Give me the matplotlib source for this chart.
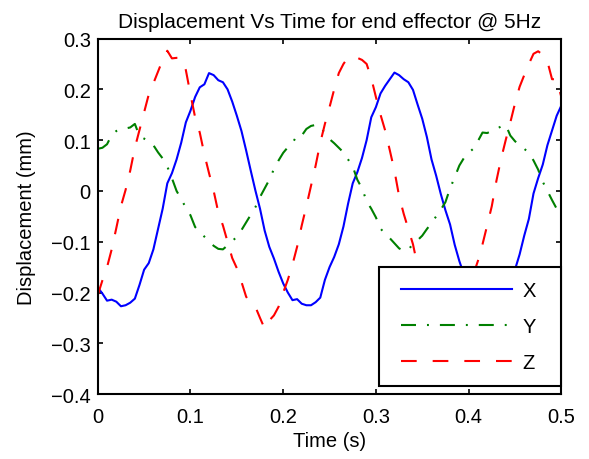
"""Displacement vs time for end effector @ 5Hz (MATLAB-style recreation)."""
import numpy as np
import matplotlib
matplotlib.use("Agg")
import matplotlib.pyplot as plt
from matplotlib.legend_handler import HandlerLine2D

# sample times (s), one every 5 ms
t = np.arange(101) * 0.005

# displacement (mm)
x_disp = [-0.190, -0.202, -0.216, -0.214, -0.218, -0.227, -0.225, -0.220, -0.212, -0.185,
          -0.155, -0.142, -0.115, -0.075, -0.035, 0.015, 0.035, 0.062, 0.095, 0.135,
          0.158, 0.185, 0.204, 0.210, 0.232, 0.228, 0.218, 0.214, 0.200, 0.176,
          0.148, 0.118, 0.080, 0.040, 0.001, -0.035, -0.078, -0.110, -0.133, -0.159,
          -0.182, -0.200, -0.215, -0.213, -0.222, -0.225, -0.225, -0.219, -0.210, -0.175,
          -0.150, -0.130, -0.105, -0.070, -0.025, 0.015, 0.037, 0.065, 0.100, 0.145,
          0.165, 0.192, 0.207, 0.220, 0.233, 0.228, 0.220, 0.214, 0.199, 0.170,
          0.142, 0.106, 0.062, 0.030, -0.006, -0.038, -0.066, -0.106, -0.138, -0.165,
          -0.190, -0.205, -0.215, -0.212, -0.220, -0.225, -0.225, -0.220, -0.210, -0.185,
          -0.155, -0.125, -0.088, -0.055, -0.005, 0.025, 0.052, 0.090, 0.119, 0.148,
          0.168]
y_disp = [0.083, 0.085, 0.092, 0.110, 0.118, 0.122, 0.123, 0.125, 0.132, 0.108,
          0.103, 0.098, 0.090, 0.076, 0.064, 0.048, 0.025, 0.000, -0.016, -0.033,
          -0.048, -0.071, -0.080, -0.090, -0.099, -0.108, -0.114, -0.115, -0.107, -0.099,
          -0.090, -0.077, -0.062, -0.047, -0.032, -0.012, 0.005, 0.022, 0.043, 0.060,
          0.075, 0.086, 0.094, 0.110, 0.109, 0.122, 0.128, 0.130, 0.128, 0.113,
          0.102, 0.094, 0.085, 0.076, 0.062, 0.048, 0.022, 0.005, -0.020, -0.035,
          -0.052, -0.074, -0.085, -0.093, -0.103, -0.113, -0.118, -0.116, -0.104, -0.097,
          -0.088, -0.075, -0.063, -0.050, -0.037, -0.022, 0.005, 0.027, 0.050, 0.065,
          0.075, 0.083, 0.098, 0.115, 0.114, 0.118, 0.122, 0.127, 0.130, 0.109,
          0.098, 0.090, 0.083, 0.075, 0.060, 0.042, 0.018, 0.000, -0.018, -0.035,
          -0.052]
z_disp = [-0.205, -0.176, -0.150, -0.115, -0.073, -0.030, 0.002, 0.040, 0.085, 0.120,
          0.155, 0.190, 0.212, 0.235, 0.258, 0.276, 0.261, 0.262, 0.262, 0.238,
          0.190, 0.145, 0.115, 0.072, 0.035, 0.000, -0.042, -0.068, -0.100, -0.132,
          -0.152, -0.179, -0.208, -0.223, -0.228, -0.250, -0.271, -0.255, -0.245, -0.228,
          -0.200, -0.175, -0.145, -0.110, -0.068, -0.030, 0.010, 0.050, 0.095, 0.132,
          0.165, 0.200, 0.232, 0.250, 0.263, 0.264, 0.262, 0.258, 0.250, 0.222,
          0.185, 0.150, 0.119, 0.080, 0.040, -0.010, -0.045, -0.075, -0.105, -0.148,
          -0.175, -0.200, -0.220, -0.228, -0.240, -0.260, -0.270, -0.255, -0.240, -0.220,
          -0.195, -0.165, -0.138, -0.105, -0.068, -0.030, 0.020, 0.063, 0.100, 0.135,
          0.172, 0.205, 0.228, 0.250, 0.270, 0.275, 0.268, 0.255, 0.220, 0.220,
          0.185]
labels = ["X", "Y", "Z"]
xticks = [0, 0.1, 0.2, 0.3, 0.4, 0.5]
yticks = [-0.4, -0.3, -0.2, -0.1, 0, 0.1, 0.2, 0.3]

plt.rcParams["font.family"] = ["Liberation Sans", "DejaVu Sans"]
plt.rcParams["lines.scale_dashes"] = False
FS = 14.5

fig = plt.figure(figsize=(5.89, 4.6), dpi=100)
ax = fig.add_axes([0.166, 0.141, 0.787, 0.773])

ax.plot(t, x_disp, color="#0000ff", lw=1.5, ls="-", label=labels[0] + "  ")
ax.plot(t, y_disp, color="#008000", lw=1.5, ls=(0, (10.8, 7.9, 1.4, 7.9)), label=labels[1] + "  ")
ax.plot(t, z_disp, color="#ff0000", lw=1.5, ls=(0, (11.3, 11.5)), label=labels[2] + "  ")

ax.set_xlim(0, 0.5)
ax.set_ylim(-0.4, 0.3)
ax.set_xticks(xticks)
ax.set_yticks(yticks)
ax.set_xticklabels([f"{v:g}" for v in xticks])
ax.set_yticklabels([f"{v:g}".replace("-", "\u2212") for v in yticks])
ax.tick_params(axis="both", direction="in", length=3.5, width=1.2, top=True, right=True,
               labelsize=FS)
ax.tick_params(axis="x", pad=9)
ax.tick_params(axis="y", pad=5)
for s in ax.spines.values():
    s.set_linewidth(1.5)

ax.set_title("Displacement Vs Time for end effector @ 5Hz", fontsize=15, pad=8.5)
ax.set_xlabel("Time (s)", fontsize=FS, labelpad=3.5)
ax.set_ylabel("Displacement (mm)", fontsize=FS, labelpad=11)

# legend sits flush with the right spine, a little above the bottom one
leg = ax.legend(loc="lower right", bbox_to_anchor=(1, 0.0225), borderaxespad=0,
                fontsize=FS, handlelength=6.27, handletextpad=0.15, borderpad=0.7,
                labelspacing=0.85, fancybox=False, framealpha=1, edgecolor="black",
                handler_map={plt.Line2D: HandlerLine2D(numpoints=2, marker_pad=0.4)})
leg.get_frame().set_linewidth(1.5)

fig.savefig("out.png", dpi=100)
